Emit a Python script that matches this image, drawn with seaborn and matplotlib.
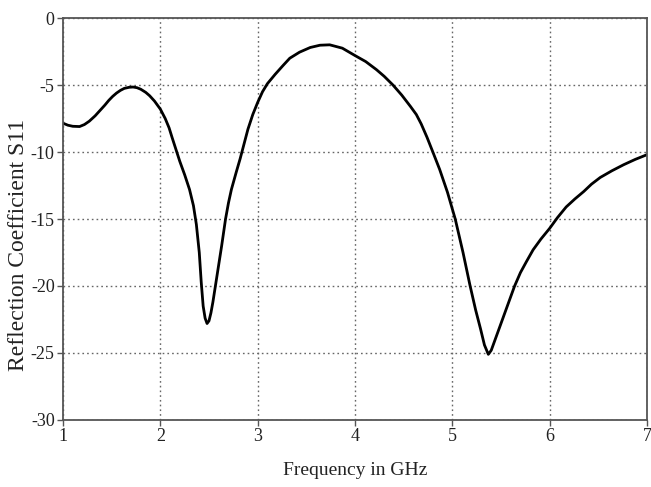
import matplotlib
matplotlib.use("Agg")
import matplotlib.pyplot as plt
import seaborn as sns
import pandas as pd

# Data
freq_ghz = [1.00, 1.05, 1.10, 1.17, 1.22, 1.27, 1.33, 1.38, 1.43, 1.47, 1.51, 1.55,
            1.59, 1.63, 1.68, 1.72, 1.76, 1.80, 1.85, 1.89, 1.94, 2.00, 2.05, 2.09,
            2.12, 2.16, 2.20, 2.25, 2.30, 2.34, 2.37, 2.40, 2.42, 2.44, 2.46, 2.48,
            2.50, 2.52, 2.54, 2.57, 2.60, 2.63, 2.67, 2.70, 2.73, 2.78, 2.82, 2.86,
            2.90, 2.95, 3.00, 3.05, 3.10, 3.18, 3.26, 3.33, 3.43, 3.54, 3.64, 3.74,
            3.87, 4.00, 4.11, 4.22, 4.30, 4.39, 4.48, 4.57, 4.63, 4.68, 4.74, 4.80,
            4.87, 4.95, 5.03, 5.11, 5.18, 5.24, 5.29, 5.33, 5.37, 5.40, 5.44, 5.49,
            5.57, 5.64, 5.70, 5.76, 5.83, 5.91, 6.00, 6.08, 6.17, 6.26, 6.35, 6.43,
            6.52, 6.64, 6.76, 6.88, 7.00]
s11_db = [-7.85, -8.0, -8.08, -8.1, -7.95, -7.7, -7.3, -6.9, -6.5, -6.15, -5.85, -5.6,
          -5.4, -5.25, -5.17, -5.15, -5.2, -5.32, -5.55, -5.8, -6.2, -6.8, -7.5, -8.2,
          -8.9, -9.8, -10.7, -11.7, -12.8, -14.0, -15.4, -17.5, -19.7, -21.5, -22.4, -22.8,
          -22.6, -22.0, -21.2, -19.8, -18.4, -17.0, -15.0, -13.8, -12.8, -11.5, -10.5, -9.4,
          -8.3, -7.2, -6.3, -5.5, -4.9, -4.2, -3.55, -3.0, -2.55, -2.2, -2.03, -2.0,
          -2.25, -2.8, -3.25, -3.85, -4.35, -5.0, -5.75, -6.6, -7.2, -7.9, -8.9, -10.0,
          -11.3, -13.0, -15.0, -17.5, -19.9, -21.8, -23.2, -24.4, -25.1, -24.8, -24.0, -23.0,
          -21.4, -20.0, -19.0, -18.2, -17.3, -16.5, -15.7, -14.9, -14.1, -13.5, -12.95, -12.4,
          -11.9, -11.4, -10.95, -10.55, -10.2]
x_ticks = [1, 2, 3, 4, 5, 6, 7]
y_ticks = [0, -5, -10, -15, -20, -25, -30]

df = pd.DataFrame({"Frequency": freq_ghz, "S11": s11_db})

sns.set_theme(style="white")
plt.rcParams["font.family"] = ["Liberation Serif", "DejaVu Serif"]

fig = plt.figure(figsize=(6.51, 4.87), dpi=100)
ax = fig.add_axes([0.0968, 0.1376, 0.897, 0.8254])

sns.lineplot(data=df, x="Frequency", y="S11", ax=ax, color="black",
             linewidth=2.0, sort=False)

ax.set_xlim(1, 7)
ax.set_ylim(-30, 0)
ax.set_xticks(x_ticks)
ax.set_yticks(y_ticks)
ax.set_xticklabels([str(t) for t in x_ticks], fontsize=13)
ax.set_yticklabels([str(t) for t in y_ticks], fontsize=13)

ax.grid(True, color="#666666", linestyle=(0, (1.2, 2.2)), linewidth=1.0)
for s in ax.spines.values():
    s.set_color("#555555")
    s.set_linewidth(1.3)
    s.set_visible(True)

ax.tick_params(axis="both", direction="out", length=4, width=1.0,
               color="#555555", labelcolor="#222222", pad=2,
               bottom=True, left=True)

ax.set_xlabel("Frequency in GHz", fontsize=14, color="#222222")
ax.set_ylabel("Reflection Coefficient S11", fontsize=17, color="#222222")
ax.yaxis.set_label_coords(-0.058, 0.435)
ax.xaxis.set_label_coords(0.5, -0.105)

fig.savefig("out.png", dpi=100)
